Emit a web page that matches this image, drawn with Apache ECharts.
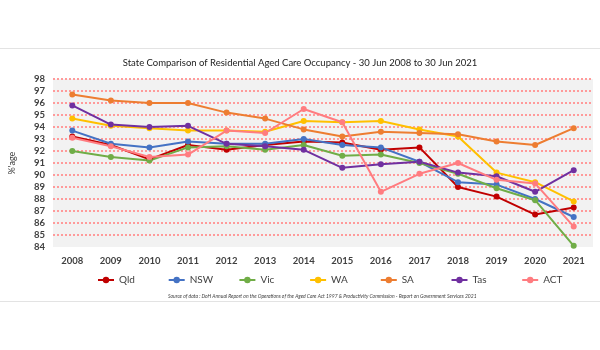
<!DOCTYPE html>
<html>
<head>
<meta charset="utf-8">
<script src="https://cdn.jsdelivr.net/npm/echarts@6/dist/echarts.min.js"></script>
<style>
  html, body { margin: 0; padding: 0; background: #fff; }
  #chart { width: 600px; height: 350px; }
</style>
</head>
<body>
<div id="chart"></div>
<script>
var years = ['2008','2009','2010','2011','2012','2013','2014','2015','2016','2017','2018','2019','2020','2021'];
var qld = [93.2, 92.5, 91.3, 92.5, 92.1, 92.5, 92.8, 92.7, 92.1, 92.3, 89.0, 88.2, 86.7, 87.3];
var nsw = [93.7, 92.6, 92.3, 92.8, 92.6, 92.6, 93.0, 92.5, 92.3, 91.1, 89.4, 89.2, 88.0, 86.5];
var vic = [92.0, 91.5, 91.2, 92.3, 92.4, 92.1, 92.5, 91.6, 91.7, 91.0, 90.1, 88.9, 87.9, 84.1];
var wa  = [94.7, 94.1, 93.9, 93.7, 93.7, 93.6, 94.5, 94.4, 94.5, 93.8, 93.2, 90.2, 89.4, 87.8];
var sa  = [96.7, 96.2, 96.0, 96.0, 95.2, 94.7, 93.8, 93.2, 93.6, 93.5, 93.4, 92.8, 92.5, 93.9];
var tas = [95.8, 94.2, 94.0, 94.1, 92.6, 92.4, 92.1, 90.6, 90.9, 91.1, 90.2, 89.9, 88.6, 90.4];
var act = [93.1, 92.4, 91.5, 91.7, 93.7, 93.5, 95.5, 94.4, 88.6, 90.1, 91.0, 89.6, 89.3, 85.7];

var names = ['Qld','NSW','Vic','WA','SA','Tas','ACT'];
var colors = ['#c00000','#4472c4','#70ad47','#ffc000','#ed7d31','#7030a0','#ff7c80'];
var values = [qld, nsw, vic, wa, sa, tas, act];

var font = 'Lato, "Liberation Sans", sans-serif';

var seriesList = [];
var legends = [];
for (var i = 0; i < names.length; i++) {
  seriesList.push({
    name: names[i],
    type: 'line',
    data: values[i],
    symbol: 'circle',
    symbolSize: 6,
    lineStyle: { width: 2, color: colors[i] },
    itemStyle: { color: colors[i] }
  });
  // one legend per state so the items sit evenly like the original
  legends.push({
    left: 92 + i * 70.7,
    top: 270,
    itemWidth: 16,
    itemHeight: 8,
    data: [names[i]],
    textStyle: { fontFamily: font, fontSize: 10, color: '#404040' }
  });
}

var myChart = echarts.init(document.getElementById('chart'));
var option = {
  backgroundColor: '#fff',
  animation: false,
  color: colors,
  title: {
    text: 'State Comparison of Residential Aged Care Occupancy - 30 Jun 2008 to 30 Jun 2021',
    left: 'center',
    top: 53,
    textStyle: { fontFamily: font, fontSize: 9.5, fontWeight: 'normal', color: '#222' }
  },
  grid: {
    left: 51, right: 7, top: 79, bottom: 103,
    show: true, backgroundColor: '#f2f2f2', borderWidth: 0
  },
  legend: legends,
  xAxis: {
    type: 'category',
    data: years,
    axisLine: { show: false },
    axisTick: { show: false },
    axisLabel: { margin: 9, fontFamily: font, fontSize: 9.5, fontWeight: 'bold', color: '#404040' }
  },
  yAxis: {
    type: 'value',
    min: 84,
    max: 98,
    interval: 1,
    name: "%'age",
    nameLocation: 'middle',
    nameRotate: 90,
    nameGap: 36,
    nameTextStyle: { fontFamily: font, fontSize: 9, color: '#404040' },
    axisLine: { show: false },
    axisTick: { show: false },
    axisLabel: { margin: 8, fontFamily: font, fontSize: 9.5, fontWeight: 'bold', color: '#404040' },
    splitLine: {
      show: true,
      showMinLine: false,
      lineStyle: { color: '#ff9a9a', width: 2, type: [2, 2] }
    }
  },
  graphic: [
    { type: 'rect', shape: { x: 0, y: 48, width: 600, height: 1 }, style: { fill: '#e3e3e3' } },
    { type: 'rect', shape: { x: 0, y: 301, width: 600, height: 1 }, style: { fill: '#e3e3e3' } },
    {
      type: 'text', left: 168, top: 294,
      style: {
        text: 'Source of data : DoH Annual Report on the Operations of the Aged Care Act 1997 & Productivity Commission - Report on Government Services 2021',
        fontFamily: font, fontSize: 5, fontStyle: 'italic', fill: '#404040'
      }
    }
  ],
  series: seriesList
};
myChart.setOption(option);
</script>
</body>
</html>
